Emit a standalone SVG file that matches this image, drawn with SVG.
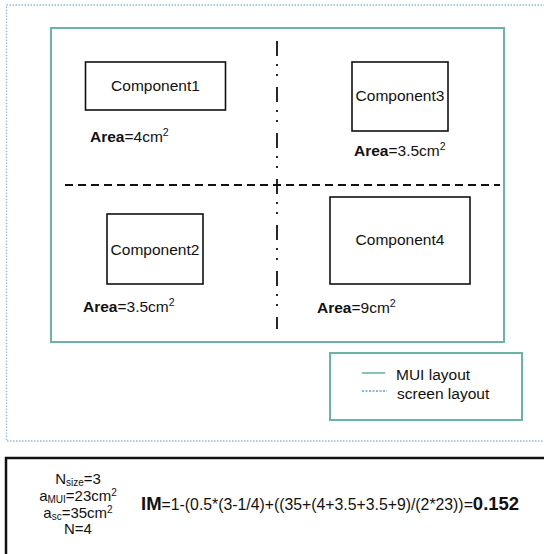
<svg xmlns="http://www.w3.org/2000/svg" width="544" height="554" viewBox="0 0 544 554">
<style>
text{font-family:"Liberation Sans",Arial,sans-serif;fill:#111}
.comp{fill:#fff;stroke:#111;stroke-width:1.6}
.lbl{font-size:15.5px;text-anchor:middle}
.area{font-size:15.5px}
.b{font-weight:bold}
.mui{fill:none;stroke:#6ab4a6;stroke-width:2}
.scr{fill:none;stroke:#8dbdd0;stroke-width:1.3;stroke-dasharray:1.5 1.5}
.stack{font-size:15px;text-anchor:middle}
</style>
<rect width="544" height="554" fill="#fff"/>
<g id="screen-layout">
<path class="scr" d="M560 5 H6.5 V441 H560"/>
</g>
<g id="mui-layout">
<rect class="mui" x="51" y="28" width="453" height="314"/>
</g>
<g id="connectors">
<path d="M65 185 H500" stroke="#111" stroke-width="1.8" stroke-dasharray="8 5" fill="none"/>
<path d="M277 41 V329" stroke="#111" stroke-width="1.8" stroke-dasharray="15 8 2 8 2 11" fill="none"/>
</g>
<g id="component1">
<rect class="comp" x="85.5" y="62" width="140" height="48"/>
<text class="lbl" x="155.5" y="91">Component1</text>
<text class="area" x="90" y="142"><tspan class="b">Area</tspan>=4cm<tspan font-size="10.5" dy="-6">2</tspan></text>
</g>
<g id="component3">
<rect class="comp" x="352" y="62" width="96" height="69"/>
<text class="lbl" x="400" y="101">Component3</text>
<text class="area" x="354" y="156"><tspan class="b">Area</tspan>=3.5cm<tspan font-size="10.5" dy="-6">2</tspan></text>
</g>
<g id="component2">
<rect class="comp" x="107" y="214" width="96" height="70"/>
<text class="lbl" x="155" y="255">Component2</text>
<text class="area" x="83" y="312"><tspan class="b">Area</tspan>=3.5cm<tspan font-size="10.5" dy="-6">2</tspan></text>
</g>
<g id="component4">
<rect class="comp" x="330" y="197" width="140" height="87"/>
<text class="lbl" x="400" y="245">Component4</text>
<text class="area" x="317" y="313"><tspan class="b">Area</tspan>=9cm<tspan font-size="10.5" dy="-6">2</tspan></text>
</g>
<g id="legend">
<rect class="mui" x="330" y="353" width="192" height="67"/>
<line x1="362" y1="373" x2="385" y2="373" stroke="#6ab4a6" stroke-width="1.6"/>
<line x1="362" y1="391" x2="387" y2="391" stroke="#6f9fc2" stroke-width="1.5" stroke-dasharray="2 1.5"/>
<text x="396" y="380" font-size="15.5">MUI layout</text>
<text x="397" y="399" font-size="15.5">screen layout</text>
</g>
<g id="formula">
<rect x="6" y="458" width="600" height="200" fill="none" stroke="#111" stroke-width="2.5"/>
<text class="stack" x="78" y="484">N<tspan font-size="10" dy="2">size</tspan><tspan dy="-2">=3</tspan></text>
<text class="stack" x="78" y="501">a<tspan font-size="10" dy="2">MUI</tspan><tspan dy="-2">=23cm</tspan><tspan font-size="10" dy="-5">2</tspan></text>
<text class="stack" x="78" y="518">a<tspan font-size="10" dy="2">sc</tspan><tspan dy="-2">=35cm</tspan><tspan font-size="10" dy="-5">2</tspan></text>
<text class="stack" x="78" y="534">N=4</text>
<text x="141" y="510" font-size="15.8"><tspan class="b" font-size="18.5">IM</tspan>=1-(0.5*(3-1/4)+((35+(4+3.5+3.5+9)/(2*23))=<tspan class="b" font-size="18.5">0.152</tspan></text>
</g>
</svg>
